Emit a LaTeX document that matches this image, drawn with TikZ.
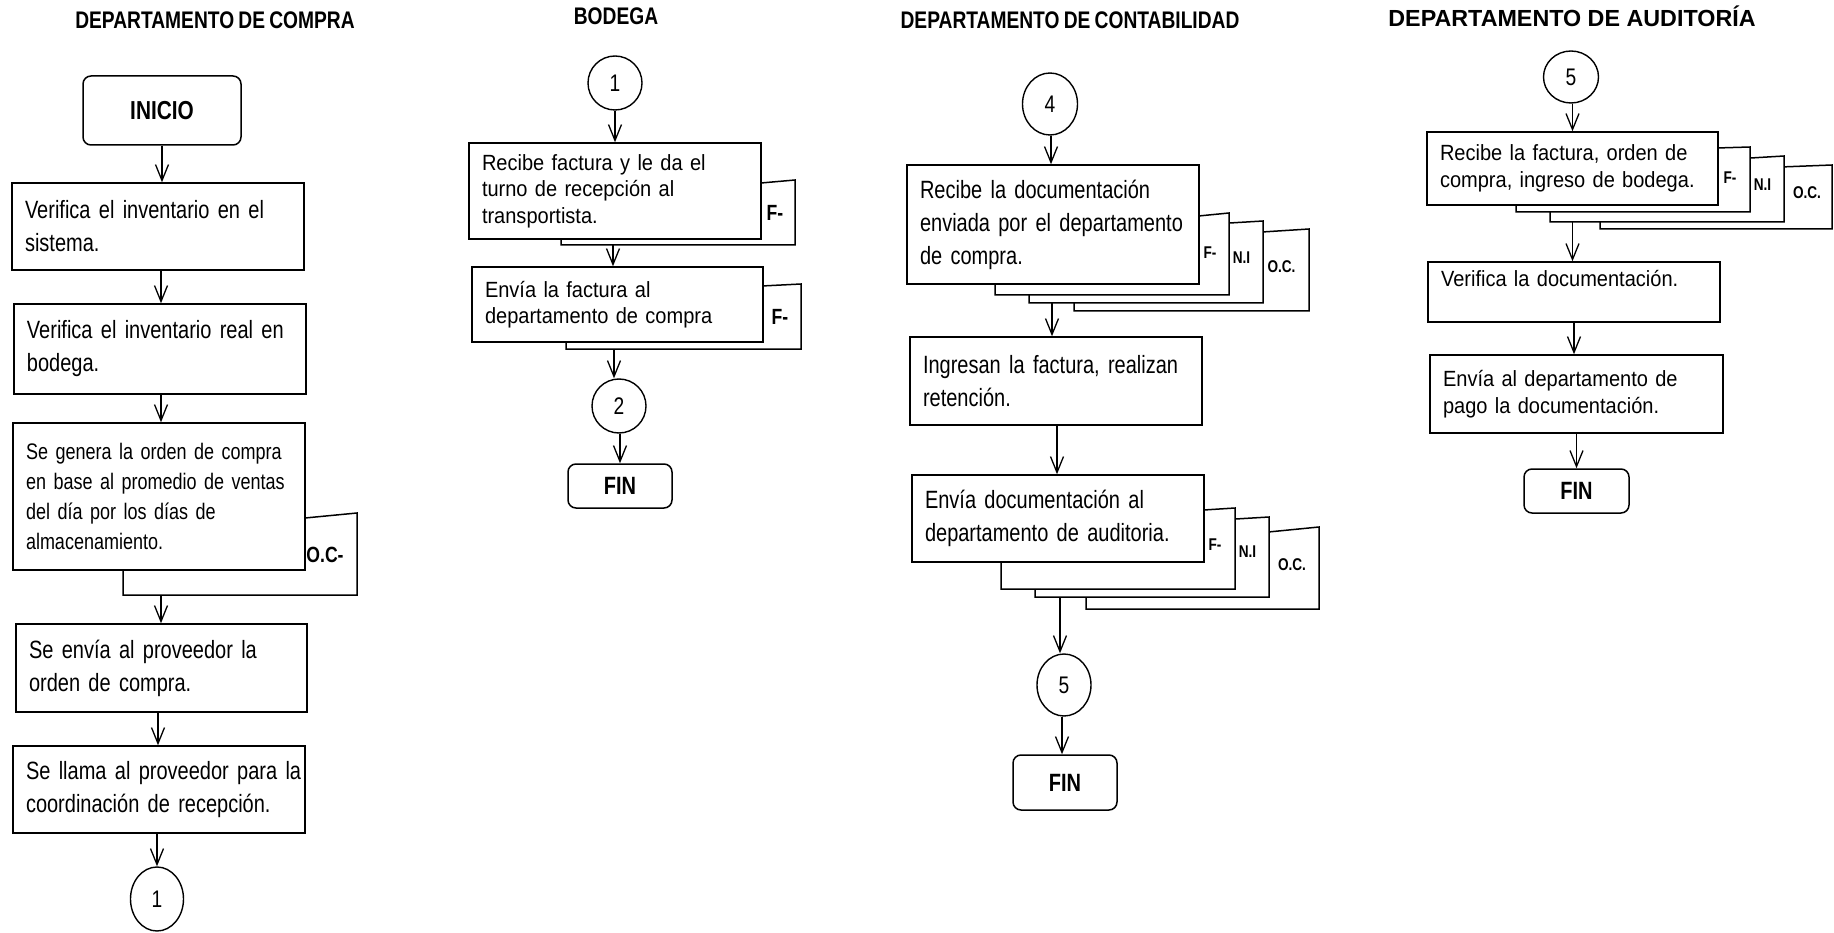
\documentclass[tikz,border=0pt]{standalone}
\usepackage{fontspec}
\setmainfont{Liberation Sans}
\newfontfamily\narrowf[FakeStretch=0.8,WordSpace=0.8]{Liberation Sans}
\newfontfamily\semif[FakeStretch=0.91,WordSpace=0.9]{Liberation Sans}
\usetikzlibrary{arrows.meta,shapes.geometric}
\pgfdeclarelayer{bglayer}
\pgfdeclarelayer{arrowlayer}
\pgfdeclarelayer{doclayer}
\pgfsetlayers{bglayer,arrowlayer,doclayer,main}
\newcommand\docshape[5]{\draw[docline] (#1,#3) -- (#2,#4) -- (#2,#5) -- (#1,#5) -- cycle;}
\tikzset{
  procbox/.style={draw, line width=1.5pt, fill=white, inner xsep=13pt, inner ysep=0pt, align=left, anchor=center},
  bodyA/.style={font=\narrowf\fontsize{25}{33}\selectfont},
  bodyS/.style={font=\narrowf\fontsize{22.5}{30}\selectfont},
  bodyB/.style={font=\semif\fontsize{22}{26.5}\selectfont},
  termbox/.style={draw, line width=1.5pt, fill=white, rounded corners=8pt, inner sep=0pt, font=\narrowf\bfseries\fontsize{25}{30}\selectfont},
  conn/.style={draw, ellipse, line width=1.4pt, fill=white, inner sep=0pt, font=\narrowf\fontsize{24}{28}\selectfont},
  docline/.style={draw, line width=1.5pt, fill=white},
  doclbl/.style={inner sep=0pt, font=\narrowf\bfseries\fontsize{17}{20}\selectfont},
  doclblL/.style={inner sep=0pt, font=\narrowf\bfseries\fontsize{22}{26}\selectfont},
  ttl/.style={inner sep=0pt, font=\narrowf\bfseries\fontsize{24}{28}\selectfont},
  ttlwide/.style={inner sep=0pt, font=\bfseries\fontsize{23.3}{28}\selectfont},
  arr/.style={draw, line width=1.3pt, -{Straight Barb[length=16pt,width=13pt]}}
}
\begin{document}
\begin{tikzpicture}[x=1pt,y=-1pt]
\useasboundingbox (0,0) rectangle (1834,933);
\begin{pgfonlayer}{bglayer}
\fill[white] (0,0) rectangle (1834,933);
\end{pgfonlayer}

% ---------------- titles
\node[ttl] (t1) at (215,20) {DEPARTAMENTO DE COMPRA};
\node[ttl] (t2) at (616,16) {BODEGA};
\node[ttl] (t3) at (1070,20.5) {DEPARTAMENTO DE CONTABILIDAD};
\node[ttlwide] (t4) at (1572,16) {DEPARTAMENTO DE AUDITORÍA};

% ---------------- column 1
\node[termbox, font=\narrowf\bfseries\fontsize{26}{30}\selectfont, minimum width=158pt, minimum height=69pt] (inicio) at (162,110.5) {INICIO};
\node[procbox, bodyA, minimum width=292pt, text width=266pt, minimum height=87pt] (a1) at (158,226.5) {\mbox{Verifica el inventario en el}\\sistema.};
\node[procbox, bodyA, minimum width=292pt, text width=266pt, minimum height=90pt] (a2) at (160,349) {\mbox{Verifica el inventario real en}\\bodega.};
\node[procbox, bodyS, minimum width=292pt, text width=266pt, minimum height=147pt] (a3) at (159,496.5) {\mbox{Se genera la orden de compra}\\\mbox{en base al promedio de ventas}\\\mbox{del día por los días de}\\almacenamiento.};
\node[procbox, bodyA, minimum width=291pt, text width=265pt, minimum height=88pt] (a4) at (161.5,668) {\mbox{Se envía al proveedor la}\\orden de compra.};
\node[procbox, bodyA, minimum width=292pt, text width=266pt, minimum height=87pt] (a5) at (159,789.5) {\mbox{Se llama al proveedor para la}\\\mbox{coordinación de recepción.}};
\node[conn, minimum width=53pt, minimum height=64pt] (k1a) at (157,899) {1};

% ---------------- column 2
\node[conn, minimum width=54pt, minimum height=54pt] (k1b) at (615,83) {1};
\node[procbox, bodyB, minimum width=292pt, text width=266pt, minimum height=96pt] (b1) at (615,191) {\mbox{Recibe factura y le da el}\\\mbox{turno de recepción al}\\transportista.};
\node[procbox, bodyB, minimum width=291pt, text width=265pt, minimum height=75pt] (b2) at (617.5,304.5) {\mbox{Envía la factura al}\\\mbox{departamento de compra}};
\node[conn, minimum width=54pt, minimum height=54pt] (k2) at (619,406) {2};
\node[termbox, minimum width=104pt, minimum height=44pt] (fin2) at (620,486) {FIN};

% ---------------- column 3
\node[conn, minimum width=55pt, minimum height=62pt] (k4) at (1050,104) {4};
\node[procbox, bodyA, minimum width=292pt, text width=266pt, minimum height=119pt] (c1) at (1053,224.5) {\mbox{Recibe la documentación}\\\mbox{enviada por el departamento}\\de compra.};
\node[procbox, bodyA, minimum width=292pt, text width=266pt, minimum height=88pt] (c2) at (1056,381) {\mbox{Ingresan la factura, realizan}\\retención.};
\node[procbox, bodyA, minimum width=292pt, text width=266pt, minimum height=87pt] (c3) at (1058,518.5) {\mbox{Envía documentación al}\\\mbox{departamento de auditoria.}};
\node[conn, minimum width=54pt, minimum height=62pt] (k5a) at (1064,685) {5};
\node[termbox, minimum width=104pt, minimum height=55pt] (fin3) at (1065,782.5) {FIN};

% ---------------- column 4
\node[conn, minimum width=55pt, minimum height=52pt] (k5b) at (1571,77) {5};
\node[procbox, bodyB, minimum width=291pt, text width=265pt, minimum height=73pt] (d1) at (1572.5,168.5) {\mbox{Recibe la factura, orden de}\\\mbox{compra, ingreso de bodega.}};
\node[procbox, bodyB, minimum width=292pt, text width=266pt, minimum height=60pt] (d2) at (1574,292) {\mbox{Verifica la documentación.}\\\null};
\node[procbox, bodyB, minimum width=293pt, text width=267pt, minimum height=78pt] (d3) at (1576.5,394) {\mbox{Envía al departamento de}\\\mbox{pago la documentación.}};
\node[termbox, minimum width=105pt, minimum height=44pt] (fin4) at (1576.5,491) {FIN};

% ---------------- documents (behind boxes)
\begin{pgfonlayer}{doclayer}
  % column 1
  \docshape{123}{357}{535.5}{513}{595}
  \node[doclblL] (lb1) at (325,555) {O.C-};
  % column 2
  \docshape{561}{795}{200.6}{180}{245}
  \node[doclblL] (lb2) at (775,213) {F-};
  \docshape{566}{801}{296}{284}{349}
  \node[doclblL] (lb3) at (780,317) {F-};
  % column 3, first box
  \docshape{1074}{1309}{244}{229}{311}
  \docshape{1029}{1263}{235}{221}{303}
  \docshape{995}{1229}{236}{213}{295}
  \node[doclbl] (lb4) at (1210,253) {F-};
  \node[doclbl] (lb5) at (1241.5,258) {N.I};
  \node[doclbl] (lb6) at (1281.5,267) {O.C.};
  % column 3, third box
  \docshape{1086}{1319}{550}{527}{609}
  \docshape{1035}{1269}{531}{517}{597}
  \docshape{1001}{1235}{523}{508}{589}
  \node[doclbl] (lb7) at (1215,545) {F-};
  \node[doclbl] (lb8) at (1247.5,552) {N.I};
  \node[doclbl] (lb9) at (1292,565) {O.C.};
  % column 4
  \docshape{1600}{1832}{174}{165}{229}
  \docshape{1550}{1784}{170}{156}{222}
  \docshape{1516}{1750}{154}{147}{212}
  \node[doclbl] (lb10) at (1730,178) {F-};
  \node[doclbl] (lb11) at (1762.5,185) {N.I};
  \node[doclbl] (lb12) at (1807,193) {O.C.};
\end{pgfonlayer}

% ---------------- connectors
\begin{pgfonlayer}{arrowlayer}
  \draw[arr] (inicio.south) -- (inicio.south |- a1.north);
  \draw[arr] ([xshift=3pt]a1.south) -- ([xshift=3pt]a1.south |- a2.north);
  \draw[arr] ([xshift=1pt]a2.south) -- ([xshift=1pt]a2.south |- a3.north);
  \draw[arr] ([xshift=2pt]a3.south) -- ([xshift=2pt]a3.south |- a4.north);
  \draw[arr] ([xshift=-3.5pt]a4.south) -- ([xshift=-3.5pt]a4.south |- a5.north);
  \draw[arr] (k1a.north |- a5.south) -- (k1a.north);

  \draw[arr] (k1b.south) -- (k1b.south |- b1.north);
  \draw[arr] ([xshift=-2pt]b1.south) -- ([xshift=-2pt]b1.south |- b2.north);
  \draw[arr] ([xshift=-3.5pt]b2.south) -- ([xshift=-3.5pt]b2.south |- k2.north);
  \draw[arr] (fin2.north |- k2.south) -- (fin2.north);

  \draw[arr] ([xshift=1pt]k4.south) -- ([xshift=1pt]k4.south |- c1.north);
  \draw[arr] ([xshift=-1pt]c1.south) -- ([xshift=-1pt]c1.south |- c2.north);
  \draw[arr] ([xshift=1pt]c2.south) -- ([xshift=1pt]c2.south |- c3.north);
  \draw[arr] ([xshift=2pt]c3.south) -- ([xshift=2pt]c3.south |- k5a.north);
  \draw[arr] ([xshift=-2pt]k5a.south) -- ([xshift=-2pt]k5a.south |- fin3.north);

  \draw[arr] ([xshift=1.5pt]k5b.south) -- ([xshift=1.5pt]k5b.south |- d1.north);
  \draw[arr] (d1.south) -- (d1.south |- d2.north);
  \draw[arr] (d2.south) -- (d2.south |- d3.north);
  \draw[arr] (d3.south) -- (d3.south |- fin4.north);
\end{pgfonlayer}
\end{tikzpicture}
\end{document}
